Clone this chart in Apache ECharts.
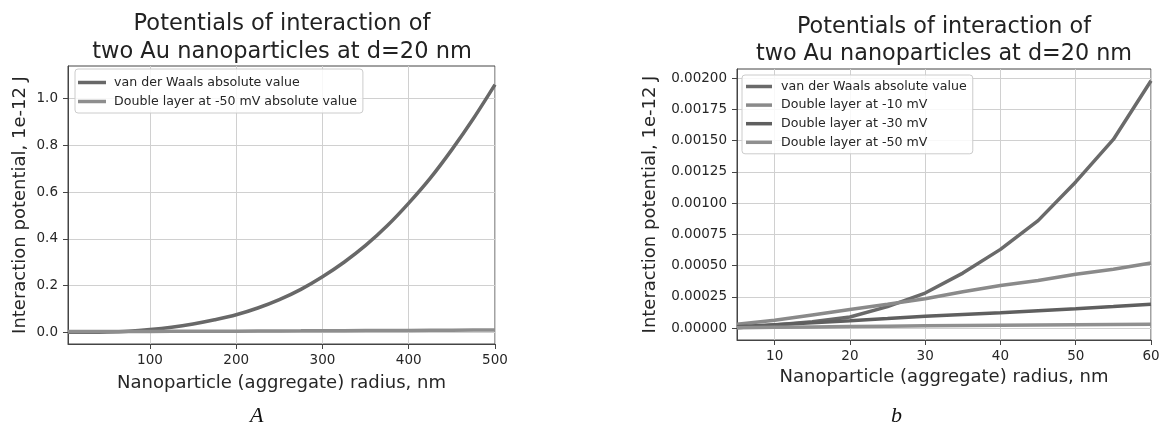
<!DOCTYPE html>
<html>
<head>
<meta charset="utf-8">
<script src="https://cdn.jsdelivr.net/npm/echarts@6/dist/echarts.min.js"></script>
<style>
html,body{margin:0;padding:0;background:#fff;}
#chart{width:1165px;height:428px;}
</style>
</head>
<body>
<div id="chart"></div>
<script>
// ---- Data ----
const titleText = 'Potentials of interaction of\ntwo Au nanoparticles at d=20 nm';
const xName = 'Nanoparticle (aggregate) radius, nm';
const yName = 'Interaction potential, 1e-12 J';

// Panel A
const radiusA = [5, 25, 50, 75, 100, 125, 150, 175, 200, 225, 250, 275, 300, 325, 350, 375, 400, 425, 450, 475, 500];
const vdwA = [0.0, 0.0003, 0.0016, 0.005, 0.012, 0.022, 0.036, 0.054, 0.075, 0.104, 0.140, 0.184, 0.238, 0.300, 0.372, 0.456, 0.553, 0.660, 0.782, 0.915, 1.06];
const dl50A = [0.003, 0.0032, 0.0035, 0.0037, 0.004, 0.0043, 0.0045, 0.0048, 0.005, 0.0055, 0.006, 0.0063, 0.0067, 0.007, 0.0074, 0.0078, 0.008, 0.0085, 0.009, 0.0095, 0.010];
const xTicksA = [100, 200, 300, 400, 500];
const yTicksA = [0.0, 0.2, 0.4, 0.6, 0.8, 1.0];

// Panel b
const radiusB = [5, 10, 15, 20, 25, 30, 35, 40, 45, 50, 55, 60];
const vdwB = [0.000003, 0.000025, 0.00005, 0.000088, 0.000172, 0.00028, 0.00044, 0.00063, 0.00086, 0.00117, 0.00151, 0.00198];
const dl10B = [0.00003, 0.000062, 0.000105, 0.000148, 0.00019, 0.000234, 0.00029, 0.00034, 0.00038, 0.00043, 0.00047, 0.00052];
const dl30B = [0.00001, 0.000027, 0.000043, 0.000059, 0.000076, 0.000094, 0.000108, 0.000122, 0.000139, 0.000155, 0.000172, 0.00019];
const dl50B = [0.000003, 0.000006, 0.000009, 0.000012, 0.000015, 0.000018, 0.00002, 0.000022, 0.000024, 0.000026, 0.000028, 0.00003];
const xTicksB = [10, 20, 30, 40, 50, 60];
const yTicksB = [0, 0.00025, 0.0005, 0.00075, 0.001, 0.00125, 0.0015, 0.00175, 0.002];

const namesA = ['van der Waals absolute value', 'Double layer at -50 mV absolute value'];
const namesB = ['van der Waals absolute value ', 'Double layer at -10 mV', 'Double layer at -30 mV', 'Double layer at -50 mV'];

// ---- Chart ----
const FONT = 'DejaVu Sans';
const TXT = '#262626';
function pairs(xs, ys){ return xs.map((x,i)=>[x, ys[i]]); }

function xAxisCfg(grid, min, max, interval, ticks){
  return {
    type:'value', gridIndex:grid, min:min, max:max, interval:interval,
    name:xName, nameLocation:'middle', nameGap:30,
    nameTextStyle:{fontFamily:FONT, fontSize:18, color:TXT},
    axisLine:{show:true, onZero:false, lineStyle:{color:'#444', width:1}},
    axisTick:{show:true, length:5, customValues:ticks, lineStyle:{color:'#444'}},
    axisLabel:{customValues:ticks, margin:9, fontFamily:FONT, fontSize:13.5, color:TXT},
    splitLine:{show:true, lineStyle:{color:'#d0d0d0', width:1}}
  };
}
function yAxisCfg(grid, min, max, interval, ticks, dec, gap){
  return {
    type:'value', gridIndex:grid, min:min, max:max, interval:interval,
    name:yName, nameLocation:'middle', nameGap:gap,
    nameTextStyle:{fontFamily:FONT, fontSize:18, color:TXT},
    axisLine:{show:true, onZero:false, lineStyle:{color:'#444', width:1}},
    axisTick:{show:true, length:5, customValues:ticks, lineStyle:{color:'#444'}},
    axisLabel:{customValues:ticks, margin:10, fontFamily:FONT, fontSize:13.5, color:TXT,
      formatter:(v)=>Number(v).toFixed(dec)},
    splitLine:{show:true, lineStyle:{color:'#d0d0d0', width:1}}
  };
}
function lineSeries(name, xi, data, color, smooth){
  return {type:'line', name:name, xAxisIndex:xi, yAxisIndex:xi, data:data,
    showSymbol:false, symbol:'none', smooth:smooth || false, animation:false,
    lineStyle:{color:color, width:3.5}, itemStyle:{color:color}, z:3};
}

const chart = echarts.init(document.getElementById('chart'), null, {renderer:'canvas'});
const option = {
  backgroundColor:'#fff',
  animation:false,
  title:[
    {text:titleText, left:282, top:10, textAlign:'center', padding:0,
     textStyle:{fontFamily:FONT, fontSize:22.5, fontWeight:'normal', color:'#222', lineHeight:28}},
    {text:titleText, left:944, top:14, textAlign:'center', padding:0,
     textStyle:{fontFamily:FONT, fontSize:22.3, fontWeight:'normal', color:'#222', lineHeight:27}}
  ],
  grid:[
    {left:68, top:66, width:427, height:278, show:true, borderColor:'#444', borderWidth:1, containLabel:false},
    {left:737, top:69, width:414, height:271, show:true, borderColor:'#444', borderWidth:1, containLabel:false}
  ],
  xAxis:[
    xAxisCfg(0, 5, 500, 100, xTicksA),
    Object.assign(xAxisCfg(1, 5, 60, 10, xTicksB), {nameGap:28})
  ],
  yAxis:[
    yAxisCfg(0, -0.05, 1.14, 0.2, yTicksA, 1, 39),
    yAxisCfg(1, -0.0000957, 0.002074, 0.00025, yTicksB, 5, 78)
  ],
  legend:[
    {data:namesA, orient:'vertical', left:75, top:69, padding:[6,6,4,3], itemGap:4,
     itemWidth:28, itemHeight:3.5, icon:'rect',
     backgroundColor:'rgba(255,255,255,0.85)', borderColor:'#cccccc', borderWidth:1, borderRadius:3,
     textStyle:{fontFamily:FONT, fontSize:12.6, color:TXT, lineHeight:15, padding:[0,0,0,3]}},
    {data:namesB, orient:'vertical', left:742, top:75, padding:[4,6,4,4], itemGap:3.6,
     itemWidth:26, itemHeight:3.5, icon:'rect',
     backgroundColor:'rgba(255,255,255,0.85)', borderColor:'#cccccc', borderWidth:1, borderRadius:3,
     textStyle:{fontFamily:FONT, fontSize:12.6, color:TXT, lineHeight:15, padding:[0,0,0,4]},
     formatter:(n)=>n.trim()}
  ],
  series:[
    lineSeries(namesA[0], 0, pairs(radiusA, vdwA), '#686868', 0.3),
    lineSeries(namesA[1], 0, pairs(radiusA, dl50A), '#8e8e8e'),
    lineSeries(namesB[0], 1, pairs(radiusB, vdwB), '#6a6a6a'),
    lineSeries(namesB[1], 1, pairs(radiusB, dl10B), '#8a8a8a'),
    lineSeries(namesB[2], 1, pairs(radiusB, dl30B), '#5f5f5f'),
    lineSeries(namesB[3], 1, pairs(radiusB, dl50B), '#8f8f8f')
  ],
  graphic:[
    {type:'text', left:250, top:405, style:{text:'A', fontFamily:'Liberation Serif', fontStyle:'italic', fontSize:22, fill:'#111'}},
    {type:'text', left:891, top:405, style:{text:'b', fontFamily:'Liberation Serif', fontStyle:'italic', fontSize:22, fill:'#111'}}
  ]
};
chart.setOption(option);
</script>
</body>
</html>
